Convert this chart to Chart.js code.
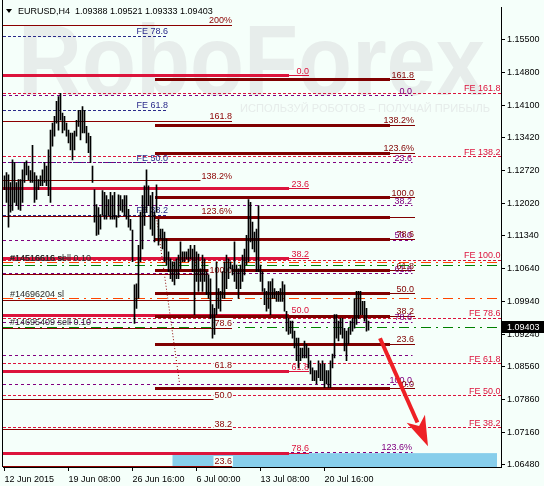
<!DOCTYPE html>
<html><head><meta charset="utf-8">
<script src="https://cdn.jsdelivr.net/npm/chart.js@4/dist/chart.umd.min.js"></script>
<style>html,body{margin:0;padding:0;background:#f5fffa;}canvas{display:block}</style>
</head><body>
<canvas id="c" width="544" height="486"></canvas>
<script>
// ---------- DATA ----------
const symbol = 'EURUSD,H4';
const lastOHLC = [1.09388, 1.09521, 1.09333, 1.09403];
const highs = [
1.1260,1.1267,1.1262,1.1246,1.1294,1.1288,1.1246,1.1252,1.1252,1.1273,
1.1288,1.1292,1.1281,1.1271,1.1325,1.1267,1.1260,1.1252,1.1260,1.1273,
1.1288,1.1281,1.1315,1.1357,1.1372,1.1386,1.1418,1.1428,1.1435,1.1393,
1.1386,1.1372,1.1357,1.1351,1.1351,1.1355,1.1378,1.1399,1.1399,1.1407,
1.1399,1.1365,1.1351,1.1344,1.1281,1.1231,1.1199,1.1193,1.1178,1.1229,
1.1225,1.1218,1.1210,1.1225,1.1218,1.1225,1.1176,1.1220,1.1218,1.1210,
1.1218,1.1218,1.1189,1.1168,1.1145,1.1029,1.1031,1.1113,1.1183,1.1218,
1.1239,1.1273,1.1239,1.1218,1.1225,1.1183,1.1241,1.1168,1.1147,1.1147,
1.1141,1.1126,1.1099,1.1084,1.1078,1.1078,1.1084,1.1092,1.1120,1.1099,
1.1099,1.1099,1.1105,1.1113,1.1105,1.1113,1.1099,1.1094,1.1063,1.1092,
1.1084,1.1057,1.1050,1.1042,1.0987,1.0979,1.1078,1.1021,1.1015,1.1057,
1.1078,1.1092,1.1084,1.1078,1.1071,1.1120,1.1071,1.1063,1.1071,1.1092,
1.1105,1.1134,1.1210,1.1204,1.1162,1.1141,1.1147,1.1197,1.1071,1.1057,
1.1021,1.1015,1.1036,1.1036,1.1042,1.1021,1.1015,1.1015,1.1021,1.1036,
1.1029,1.0973,1.0958,1.0952,1.0952,1.0931,1.0916,1.0916,1.0895,1.0895,
1.0910,1.0903,1.0895,1.0868,1.0853,1.0847,1.0847,1.0868,1.0861,1.0868,
1.0861,1.0847,1.0847,1.0868,1.0882,1.0966,1.0966,1.0952,1.0958,1.0958,
1.0937,1.0931,1.0937,1.0952,1.0958,1.1000,1.1015,1.1015,1.1015,1.0994,
1.0994,1.0979,1.0952];
const lows = [
1.1231,1.1204,1.1151,1.1183,1.1187,1.1204,1.1197,1.1189,1.1187,1.1204,
1.1246,1.1262,1.1252,1.1246,1.1246,1.1204,1.1210,1.1231,1.1239,1.1239,
1.1246,1.1239,1.1218,1.1204,1.1323,1.1344,1.1372,1.1357,1.1378,1.1351,
1.1357,1.1344,1.1330,1.1315,1.1294,1.1315,1.1344,1.1365,1.1336,1.1351,
1.1351,1.1330,1.1309,1.1288,1.1246,1.1162,1.1134,1.1136,1.1147,1.1176,
1.1168,1.1168,1.1176,1.1168,1.1168,1.1168,1.1151,1.1172,1.1187,1.1183,
1.1176,1.1168,1.1151,1.1145,1.1078,1.0947,1.0979,1.1000,1.1078,1.1105,
1.1155,1.1183,1.1197,1.1147,1.1134,1.1120,1.1183,1.1113,1.1126,1.1105,
1.1078,1.1071,1.1057,1.1042,1.1036,1.1029,1.1042,1.1042,1.1063,1.1078,
1.1078,1.1084,1.1078,1.1084,1.1057,1.0966,1.1036,1.1015,1.1036,1.1015,
1.1036,1.1008,1.1000,1.0958,1.0916,1.0924,1.0966,1.0979,1.0973,1.1000,
1.1000,1.1021,1.1042,1.1063,1.1050,1.1036,1.1021,1.1000,1.1021,1.1036,
1.1050,1.1071,1.1078,1.1120,1.1105,1.1099,1.1057,1.1057,1.1036,1.1015,
1.0987,1.0973,1.0979,1.0966,1.1000,1.1000,1.0994,1.0994,1.0994,1.0994,
1.0973,1.0931,1.0924,1.0926,1.0916,1.0895,1.0868,1.0853,1.0868,1.0874,
1.0874,1.0874,1.0853,1.0840,1.0826,1.0826,1.0819,1.0832,1.0826,1.0826,
1.0811,1.0819,1.0811,1.0811,1.0853,1.0874,1.0916,1.0910,1.0924,1.0916,
1.0889,1.0868,1.0903,1.0924,1.0931,1.0937,1.0945,1.0958,1.0966,1.0966,
1.0952,1.0931,1.0933];
const timeTickIndex = [0, 32, 64, 96, 128, 160];
const timeTickLabels = ['12 Jun 2015','19 Jun 08:00','26 Jun 16:00','6 Jul 00:00','13 Jul 08:00','20 Jul 16:00'];
const priceTicks = [1.15500,1.14800,1.14100,1.13420,1.12720,1.12020,1.11340,1.10640,1.09940,1.09240,1.08560,1.07860,1.07160,1.06480];
const priceMin = 1.06428, priceMax = 1.16172;
const barMin = -0.75, barMax = 248.25;

// Fibonacci set A (thin dark red, left part)
const fibA_labels = ['200%','161.8','138.2%','123.6%','100.0','','78.6','61.8','50.0','38.2','23.6'];
const fibA_prices = [1.15794,1.13757,1.12497,1.11741,1.10502,1.09956,1.09368,1.08476,1.07856,1.07226,1.06449];
// Fibonacci set B (thick crimson)
const fibB_labels = ['0.0','23.6','38.2','50.0','61.8','78.6'];
const fibB_prices = [1.14723,1.12329,1.10838,1.09641,1.08444,1.06722];
// Fibonacci set C (thick maroon)
const fibC_labels = ['161.8','138.2%','123.6%','100.0','','78.6','61.8','50.0','38.2','23.6','0.0'];
const fibC_prices = [1.14639,1.13673,1.13085,1.12140,1.11720,1.11258,1.10586,1.10103,1.09620,1.09032,1.08087];
// Fibonacci set D (purple dashed)
const fibD_labels = ['0.0','23.6','38.2','50.0','61.8','78.6','','100.0','123.6%'];
const fibD_prices = [1.14303,1.12875,1.11972,1.11237,1.10523,1.09494,1.08801,1.08171,1.06743];
// Fibonacci expansion (navy dashed, left)
const feNavy_labels = ['FE 78.6','FE 61.8','FE 50.0','FE 38.2'];
const feNavy_prices = [1.15563,1.13988,1.12875,1.11762];
// Fibonacci expansion (crimson dashed, full width)
const feRed_labels = ['FE 161.8','FE 138.2','FE 100.0','FE 78.6','FE 61.8','FE 50.0','FE 38.2'];
const feRed_prices = [1.14356,1.13001,1.10809,1.09578,1.08612,1.07940,1.07262];
// Orders
const orderLabels = [['#14516616 sl','#14516616 sell 0.10'],['#14696204 sl'],['#14695409 sell 0.10']];
const orderLabelPrices = [1.10754, 1.09998, 1.09388];
const stopPrices = [1.10754, 1.09998];
const entryPrices = [1.10702, 1.09388];
// Object anchors (bar index units)
const fibA_end = 113.75, fibB_thickEnd = 142.25, fibB_end = 152.25;
const fibC_start = 75.25, fibC_thickEnd = 192.75, fibC_end = 205.25, fibD_end = 204;
const feNavy_end = 81.75;
const trendLine = [[76, 1.1172], [87.5, 1.0821]];
const arrowLine = [[187.75, 1.09158], [211.75, 1.06869]];
const targetBox = [84, 246.25, 1.06722, priceMin];

// ---------- DRAWING ----------
const FONT = '"Liberation Sans", Arial, sans-serif';
const BG = '#f5fffa';
function P(chart, v, p) { return [chart.scales.x.getPixelForValue(v), chart.scales.y.getPixelForValue(p)]; }
function hline(ctx, chart, price, x0, x1, color, w, dash) {
  const y0 = chart.scales.y.getPixelForValue(price);
  const y = (w % 2 === 1) ? Math.floor(y0) + 0.5 : Math.round(y0);
  ctx.save(); ctx.strokeStyle = color; ctx.lineWidth = w; ctx.setLineDash(dash || []);
  ctx.beginPath(); ctx.moveTo(chart.scales.x.getPixelForValue(x0), y);
  ctx.lineTo(chart.scales.x.getPixelForValue(x1), y); ctx.stroke(); ctx.restore();
}
function label(ctx, chart, text, xv, price, color, bg) {
  if (!text) return;
  const x = chart.scales.x.getPixelForValue(xv);
  const y = Math.round(chart.scales.y.getPixelForValue(price)) - 2;
  ctx.save(); ctx.font = '9px ' + FONT; ctx.textAlign = 'right'; ctx.textBaseline = 'alphabetic';
  if (bg) { const w = ctx.measureText(text).width; ctx.fillStyle = BG; ctx.fillRect(x - w - 1, y - 8, w + 2, 10); }
  ctx.fillStyle = color; ctx.fillText(text, x, y); ctx.restore();
}

const decor = {
  id: 'decor',
  beforeDatasetsDraw(chart) {
    const ctx = chart.ctx, ca = chart.chartArea;
    ctx.save();
    ctx.beginPath(); ctx.rect(ca.left, ca.top - 3, ca.right - ca.left, ca.bottom - ca.top + 3); ctx.clip();
    // watermark
    ctx.fillStyle = '#e7edeb';
    ctx.font = 'bold 100px ' + FONT; ctx.textBaseline = 'alphabetic';
    let w = ctx.measureText('RoboForex').width;
    ctx.save(); ctx.translate(18, 95); ctx.scale(467 / w, 1); ctx.fillText('RoboForex', 0, 0); ctx.restore();
    ctx.font = '11px ' + FONT; ctx.fillStyle = '#e6ecea';
    const rt = 'ИСПОЛЬЗУЙ РОБОТОВ – ПОЛУЧАЙ ПРИБЫЛЬ';
    w = ctx.measureText(rt).width;
    ctx.save(); ctx.translate(240, 112); ctx.scale(250 / w, 1); ctx.fillText(rt, 0, 0); ctx.restore();
    // target box
    const [bx0, by0] = P(chart, targetBox[0], targetBox[2]);
    const [bx1, by1] = P(chart, targetBox[1], targetBox[3]);
    ctx.fillStyle = '#87ceeb'; ctx.fillRect(bx0, by0, bx1 - bx0, by1 - by0);
    // lines
    feRed_prices.forEach(p => hline(ctx, chart, p, barMin, barMax, '#dc143c', 1, [3, 2]));
    feNavy_prices.forEach(p => hline(ctx, chart, p, barMin, feNavy_end, '#2a2a8a', 1, [3, 2]));
    fibD_prices.forEach(p => hline(ctx, chart, p, barMin, fibD_end, '#800080', 1, [3, 3]));
    fibA_prices.forEach(p => hline(ctx, chart, p, barMin, fibA_end, '#8b0000', 1));
    stopPrices.forEach(p => hline(ctx, chart, p, barMin, barMax, '#ff4500', 1, [10, 5, 2, 5]));
    entryPrices.forEach(p => hline(ctx, chart, p, barMin, barMax, '#008000', 1, [10, 5, 2, 5]));
    fibB_prices.forEach(p => { hline(ctx, chart, p, barMin, fibB_thickEnd, '#dc143c', 3); hline(ctx, chart, p, fibB_thickEnd, fibB_end, '#dc143c', 1); });
    fibC_prices.forEach(p => { hline(ctx, chart, p, fibC_start, fibC_thickEnd, '#800000', 3); hline(ctx, chart, p, fibC_thickEnd, fibC_end, '#800000', 1); });
    // labels
    feRed_prices.forEach((p, i) => label(ctx, chart, feRed_labels[i], barMax - 0.25, p, '#dc143c'));
    feNavy_prices.forEach((p, i) => label(ctx, chart, feNavy_labels[i], feNavy_end, p, '#2a2a8a'));
    fibD_prices.forEach((p, i) => label(ctx, chart, fibD_labels[i], fibD_end - 0.25, p, '#800080'));
    fibA_prices.forEach((p, i) => label(ctx, chart, fibA_labels[i], fibA_end, p, '#8b0000', true));
    fibB_prices.forEach((p, i) => label(ctx, chart, fibB_labels[i], fibB_end, p, '#dc143c'));
    fibC_prices.forEach((p, i) => label(ctx, chart, fibC_labels[i], fibC_end - 0.5, p, '#800000'));
    // order labels
    ctx.font = '9px ' + FONT; ctx.fillStyle = '#2b2b2b'; ctx.textAlign = 'left';
    orderLabels.forEach((arr, i) => {
      const y = Math.round(chart.scales.y.getPixelForValue(orderLabelPrices[i])) - 2;
      arr.forEach(t => ctx.fillText(t, 10, y));
    });
    // dotted trend line
    const [t0x, t0y] = P(chart, trendLine[0][0], trendLine[0][1]);
    const [t1x, t1y] = P(chart, trendLine[1][0], trendLine[1][1]);
    ctx.strokeStyle = '#8b0000'; ctx.lineWidth = 1; ctx.setLineDash([1, 2]);
    ctx.beginPath(); ctx.moveTo(t0x, t0y); ctx.lineTo(t1x, t1y); ctx.stroke();
    ctx.restore();
  },
  afterDatasetsDraw(chart) {
    const ctx = chart.ctx, ca = chart.chartArea;
    ctx.save();
    // left border
    ctx.strokeStyle = '#000'; ctx.lineWidth = 1;
    ctx.beginPath(); ctx.moveTo(ca.left - 0.5, 0); ctx.lineTo(ca.left - 0.5, ca.bottom); ctx.stroke();
    // arrow
    const [ax0, ay0] = P(chart, arrowLine[0][0], arrowLine[0][1]);
    const [ax1, ay1] = P(chart, arrowLine[1][0], arrowLine[1][1]);
    const dx = ax1 - ax0, dy = ay1 - ay0, L = Math.hypot(dx, dy), ux = dx / L, uy = dy / L;
    const hl = 30, hw = 10;
    ctx.strokeStyle = '#ee2025'; ctx.fillStyle = '#ee2025'; ctx.lineWidth = 4;
    ctx.beginPath(); ctx.moveTo(ax0, ay0); ctx.lineTo(ax1 - ux * (hl - 4), ay1 - uy * (hl - 4)); ctx.stroke();
    const bx = ax1 - ux * hl, by = ay1 - uy * hl;
    ctx.beginPath(); ctx.moveTo(ax1, ay1);
    ctx.lineTo(bx + uy * hw, by - ux * hw);
    ctx.lineTo(ax1 - ux * (hl - 8), ay1 - uy * (hl - 8));
    ctx.lineTo(bx - uy * hw, by + ux * hw);
    ctx.closePath(); ctx.fill();
    // title
    ctx.fillStyle = '#000';
    ctx.beginPath(); ctx.moveTo(6, 9); ctx.lineTo(12, 9); ctx.lineTo(9, 13); ctx.closePath(); ctx.fill();
    ctx.font = '9px ' + FONT; ctx.textAlign = 'left'; ctx.textBaseline = 'alphabetic';
    ctx.fillText(symbol + '  ' + lastOHLC.map(v => v.toFixed(5)).join(' '), 18, 14);
    // current price box
    const cy = Math.round(chart.scales.y.getPixelForValue(lastOHLC[3]));
    ctx.fillStyle = '#000'; ctx.fillRect(ca.right + 1, cy - 6, 544 - ca.right - 1, 12);
    ctx.fillStyle = '#fff'; ctx.textBaseline = 'middle';
    ctx.fillText(lastOHLC[3].toFixed(5), ca.right + 6, cy + 0.5);
    ctx.restore();
  }
};

new Chart(document.getElementById('c'), {
  type: 'bar',
  data: { datasets: [{
    data: highs.map((h, i) => ({ x: i, y: [lows[i], h] })),
    backgroundColor: '#000', borderWidth: 0, barThickness: 1, grouped: false
  }] },
  options: {
    animation: false, responsive: false, devicePixelRatio: 1,
    layout: { padding: { left: 3, top: 3, right: 0, bottom: 0 } },
    plugins: { legend: { display: false }, tooltip: { enabled: false } },
    scales: {
      x: {
        type: 'linear', min: barMin, max: barMax, offset: false,
        grid: { drawOnChartArea: false, tickLength: 4, color: '#000', offset: false },
        border: { color: '#000' },
        ticks: { align: 'start', color: '#000', padding: 3, maxRotation: 0, autoSkip: false,
          font: { family: FONT, size: 9 },
          callback: v => timeTickLabels[timeTickIndex.indexOf(v)] },
        afterBuildTicks: s => { s.ticks = timeTickIndex.map(v => ({ value: v })); },
        afterFit: s => { s.height = 19; }
      },
      y: {
        position: 'right', min: priceMin, max: priceMax,
        grid: { drawOnChartArea: false, tickLength: 4, color: '#000' },
        border: { color: '#000' },
        ticks: { color: '#000', padding: 2, font: { family: FONT, size: 9 }, callback: v => v.toFixed(5) },
        afterBuildTicks: s => { s.ticks = priceTicks.map(v => ({ value: v })); },
        afterFit: s => { s.width = 43; }
      }
    }
  },
  plugins: [decor]
});
</script>
</body></html>
